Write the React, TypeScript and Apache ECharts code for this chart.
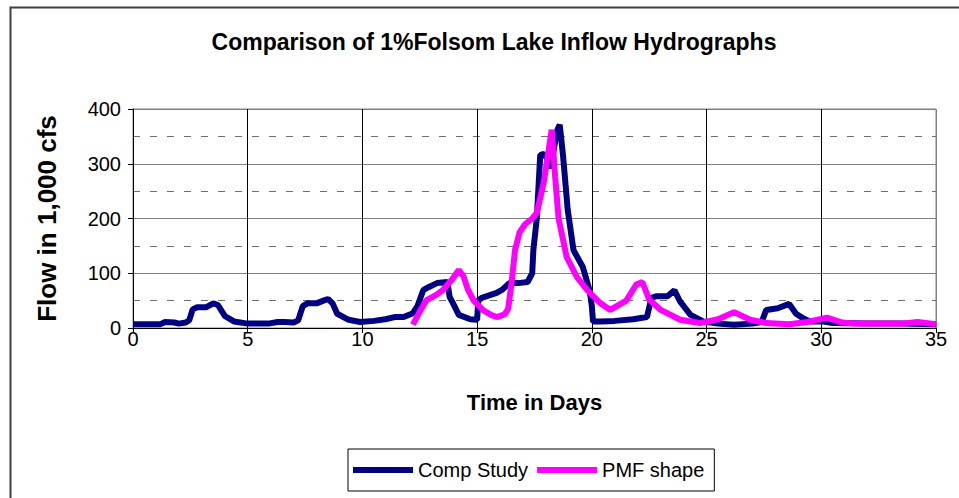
import React, { useEffect, useRef } from "react";
import * as echarts from "echarts";

const titleText = "Comparison of 1%Folsom Lake Inflow Hydrographs";
const xName = "Time in Days";
const yName = "Flow in 1,000 cfs";
const seriesNames = ["Comp Study", "PMF shape"];

const compDays = [
  0, 1.2, 1.4, 1.8, 2.0, 2.3, 2.45, 2.6, 2.8, 3.2, 3.5, 3.7, 4.0, 4.4, 5.0, 5.9, 6.3, 6.6, 7.0, 7.2,
  7.4, 7.6, 8.0, 8.3, 8.5, 8.7, 8.9, 9.4, 9.9, 10.5, 11.0, 11.4, 11.8, 12.2, 12.4, 12.65, 12.9, 13.25,
  13.7, 13.8, 13.95, 14.2, 14.7, 15.0, 15.05, 15.2, 15.85, 16.1, 16.4, 16.8, 17.2, 17.4, 17.45, 17.6,
  17.75, 17.9, 18.05, 18.2, 18.4, 18.5, 18.6, 18.75, 18.95, 19.2, 19.6, 19.9, 20.0, 20.05, 20.4, 21.0,
  21.8, 22.4, 22.6, 22.8, 23.3, 23.6, 23.85, 24.3, 24.85, 25.5, 26.2, 27.0, 27.4, 27.6, 28.1, 28.6,
  28.9, 29.2, 29.5, 30.1, 30.5, 32.0, 33.5, 35.0,
];
const compFlow = [
  7, 7, 11, 10, 8, 10, 14, 34, 38, 38, 45, 42, 22, 12, 8, 8, 11, 11, 10, 14,
  40, 45, 45, 50, 53, 45, 26, 15, 11, 13, 16, 20, 20, 27, 40, 69, 75, 82,
  84, 57, 45, 24, 16, 15, 50, 55, 64, 70, 82, 82, 84, 100, 142, 200,
  316, 318, 310, 292, 340, 362, 371, 312, 215, 142, 112, 69, 40, 12, 12, 13,
  16, 20, 55, 58, 58, 69, 48, 24, 12, 8, 6, 8, 11, 33, 36, 44,
  26, 18, 12, 12, 9, 8, 8, 7,
];

const pmfDays = [
  12.2, 12.5, 12.8, 13.2, 13.5, 13.9, 14.2, 14.4, 14.6, 14.85, 15.25, 15.6, 15.85, 16.2, 16.35, 16.5,
  16.65, 16.85, 17.1, 17.4, 17.6, 17.9, 18.1, 18.25, 18.4, 18.55, 18.9, 19.35, 19.8, 20.35, 20.8, 21.5,
  21.95, 22.2, 22.5, 23.0, 23.85, 24.7, 25.5, 26.2, 26.9, 27.6, 28.6, 29.4, 30.25, 30.9, 31.5, 33.5,
  34.2, 35.0,
];
const pmfFlow = [
  6, 30, 51, 60, 69, 88, 106, 95, 70, 50, 33, 24, 20, 25, 35, 82,
  142, 175, 190, 200, 210, 265, 320, 362, 276, 200, 130, 93, 69, 46, 33, 50,
  80, 84, 52, 33, 15, 9, 16, 29, 15, 9, 7, 11, 19, 10, 8, 8,
  11, 7,
];

const xTicks = { min: 0, max: 35, interval: 5 };
const yTicks = { min: 0, max: 400, interval: 100 };

const FONT = "Arial, 'Liberation Sans', sans-serif";

export default function App() {
  const ref = useRef<HTMLDivElement>(null);
  useEffect(() => {
    document.body.style.margin = "0";
    if (!ref.current) return;
    const chart = echarts.init(ref.current, null, { renderer: "svg" });
    const comp = compDays.map((d, i) => [d, compFlow[i]]);
    const pmf = pmfDays.map((d, i) => [d, pmfFlow[i]]);
    chart.setOption({
      animation: false,
      backgroundColor: "#ffffff",
      title: {
        text: titleText,
        left: 489,
        top: 25,
        textAlign: "center",
        textStyle: { fontFamily: FONT, fontWeight: "bold", fontSize: 23, color: "#000" },
      },
      graphic: [
        {
          type: "rect",
          left: 8,
          top: 5,
          shape: { width: 1000, height: 1000 },
          style: { fill: "none", stroke: "#404040", lineWidth: 2 },
          silent: true,
        },
      ],
      legend: {
        left: 348,
        top: 449,
        padding: [11, 10, 11, 5],
        borderColor: "#000",
        borderWidth: 1,
        itemWidth: 60,
        itemHeight: 6,
        itemGap: 9,
        icon: "rect",
        textStyle: { fontFamily: FONT, fontSize: 20, color: "#000" },
        data: seriesNames,
      },
      grid: {
        left: 133,
        right: 23,
        top: 109,
        bottom: 170,
        show: true,
        borderColor: "#808080",
        borderWidth: 1,
      },
      xAxis: {
        type: "value",
        min: xTicks.min,
        max: xTicks.max,
        interval: xTicks.interval,
        name: xName,
        nameLocation: "middle",
        nameGap: 63,
        nameTextStyle: { fontFamily: FONT, fontWeight: "bold", fontSize: 22, color: "#000" },
        axisLine: { lineStyle: { color: "#000", width: 1 } },
        axisTick: { show: true, length: 5, lineStyle: { color: "#000" } },
        axisLabel: { fontFamily: FONT, fontSize: 20, color: "#000", margin: 1 },
        splitLine: {
          show: true,
          lineStyle: {
            color: ["#000", "#000", "#000", "#000", "#000", "#000", "#000", "#808080"],
            width: 1,
          },
        },
      },
      yAxis: {
        type: "value",
        min: yTicks.min,
        max: yTicks.max,
        interval: yTicks.interval,
        name: yName,
        nameLocation: "middle",
        nameRotate: 90,
        nameGap: 73,
        nameTextStyle: { fontFamily: FONT, fontWeight: "bold", fontSize: 26, color: "#000" },
        axisLine: { show: true, lineStyle: { color: "#000", width: 1 } },
        axisTick: { show: true, length: 5, lineStyle: { color: "#000" } },
        axisLabel: { fontFamily: FONT, fontSize: 20, color: "#000", margin: 12 },
        splitLine: { show: true, lineStyle: { color: "#808080", width: 1 } },
        minorTick: { show: false, splitNumber: 2 },
        minorSplitLine: { show: true, lineStyle: { color: "#707070", width: 1, type: [7, 10] } },
      },
      series: [
        {
          name: seriesNames[0],
          type: "line",
          data: comp,
          showSymbol: false,
          symbol: "none",
          lineStyle: { color: "#000080", width: 6 },
          itemStyle: { color: "#000080" },
        },
        {
          name: seriesNames[1],
          type: "line",
          data: pmf,
          showSymbol: false,
          symbol: "none",
          lineStyle: { color: "#FF00FF", width: 6 },
          itemStyle: { color: "#FF00FF" },
        },
      ],
    });
    return () => chart.dispose();
  }, []);
  return <div ref={ref} style={{ width: 959, height: 498 }} />;
}
